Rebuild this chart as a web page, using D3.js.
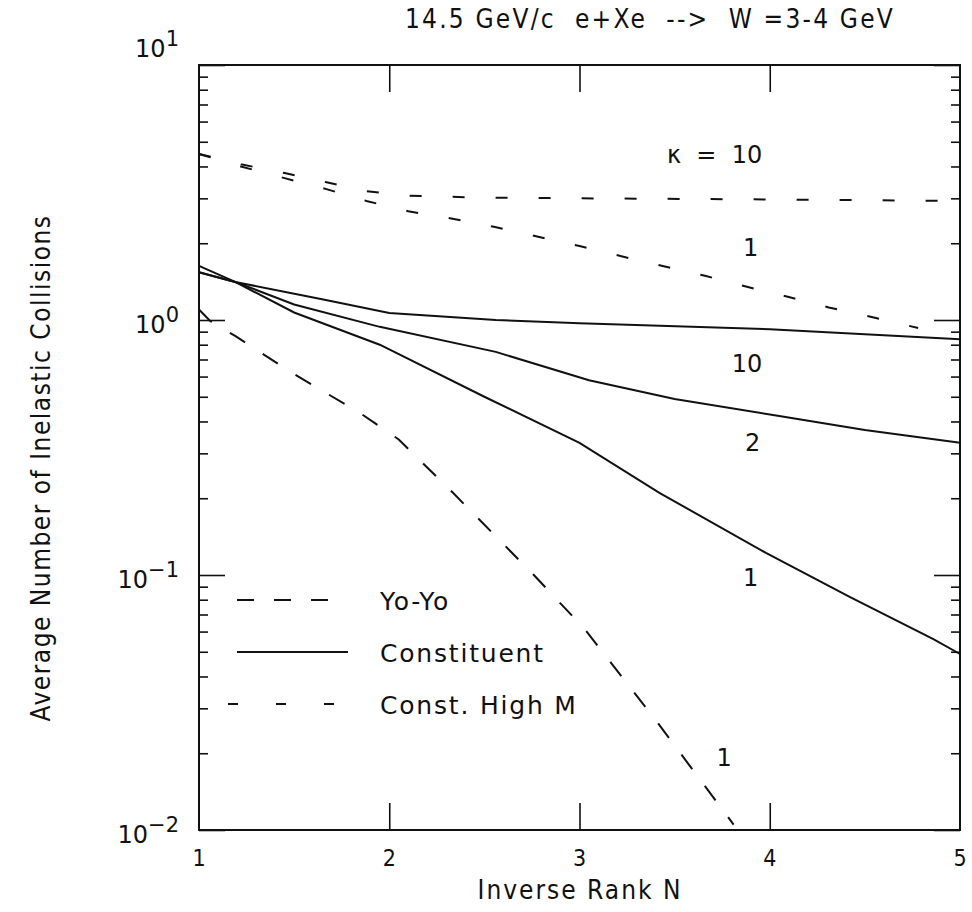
<!DOCTYPE html>
<html>
<head>
<meta charset="utf-8">
<script src="https://cdn.jsdelivr.net/npm/d3@7"></script>
<style>
  body { margin: 0; background: #fff; }
  text { fill: #111; }
</style>
</head>
<body>
<div id="chart"></div>
<script>
// DATA
const xTicks = [1, 2, 3, 4, 5];
const yDecades = [1e-2, 1e-1, 1e0, 1e1];

// Constituent model (solid), kappa = 10, 2, 1
const constK10 = [[1, 1.54], [1.19, 1.41], [1.66, 1.2], [2, 1.065], [2.56, 1.0], [3, 0.97], [4, 0.92], [5, 0.84]];
const constK2 = [[1, 1.54], [1.19, 1.41], [1.5, 1.15], [1.95, 0.94], [2.56, 0.75], [3.05, 0.58], [3.5, 0.49], [4.05, 0.42], [4.5, 0.37], [5, 0.33]];
const constK1 = [[1, 1.63], [1.19, 1.41], [1.5, 1.07], [1.95, 0.8], [2.5, 0.5], [3, 0.33], [3.42, 0.21], [3.98, 0.122], [4.42, 0.082], [4.86, 0.056], [5, 0.049]];

// Const. High M (short dashes), kappa = 10, 1
const highK10 = [[1, 4.48], [1.22, 4.08], [1.45, 3.77], [1.67, 3.47], [1.88, 3.2], [2.1, 3.07], [2.5, 3.02], [3, 3.0], [4, 2.97], [5, 2.93]];
const highK1 = [[1, 4.48], [1.22, 4.0], [1.45, 3.6], [1.67, 3.26], [1.88, 2.93], [2.1, 2.67], [2.34, 2.49], [2.55, 2.32], [3, 1.95], [3.3, 1.72], [3.66, 1.49], [3.88, 1.35], [4.1, 1.23], [4.31, 1.12], [4.53, 1.03], [4.78, 0.93]];

// Yo-Yo (long dashes), kappa = 1
const yoyoK1 = [[1, 1.1], [1.06, 0.99], [1.19, 0.866], [1.49, 0.62], [1.85, 0.43], [2.05, 0.34], [2.335, 0.21], [2.76, 0.1], [3.03, 0.061], [3.4, 0.027], [3.81, 0.0105]];

const curveLabels = [
  { x: 3.71, y: 4.13, t: "\u03ba  =  10" },
  { x: 3.9, y: 1.78, t: "1" },
  { x: 3.88, y: 0.625, t: "10" },
  { x: 3.91, y: 0.306, t: "2" },
  { x: 3.9, y: 0.0906, t: "1" },
  { x: 3.76, y: 0.0178, t: "1" }
];

const legendItems = [
  { name: "Yo-Yo", dash: "17,20", x0: 237, x1: 328 },
  { name: "Constituent", dash: null, x0: 237, x1: 348 },
  { name: "Const. High M", dash: "10,38", x0: 228, x1: 336 }
];

// LAYOUT
const W = 972, H = 912;
const frame = { left: 199, right: 960, top: 65, bottom: 830 };

const svg = d3.select("#chart").append("svg")
  .attr("width", W).attr("height", H);

const x = d3.scaleLinear().domain([1, 5]).range([frame.left, frame.right]);
const y = d3.scaleLog().domain([1e-2, 1e1]).range([frame.bottom, frame.top]);

// minor ticks for log axis
const minorY = [];
yDecades.slice(0, 3).forEach(d => {
  for (let k = 2; k <= 9; k++) minorY.push(d * k);
});

const sans = "'DejaVu Sans', sans-serif";
const cond = "'DejaVu Sans Condensed', 'DejaVu Sans', sans-serif";

// ticks, inward
function tickGroup(axis, tx, ty) {
  const g = svg.append("g").attr("transform", `translate(${tx},${ty})`).call(axis);
  g.select(".domain").remove();
  g.selectAll("text").remove();
  g.selectAll("line").attr("stroke", "#111").attr("stroke-width", 1.6);
  return g;
}
tickGroup(d3.axisBottom(x).tickValues([2, 3, 4]).tickSize(-27), 0, frame.bottom);
tickGroup(d3.axisTop(x).tickValues([2, 3, 4]).tickSize(-27), 0, frame.top);
tickGroup(d3.axisLeft(y).tickValues(yDecades).tickSize(-26), frame.left, 0);
tickGroup(d3.axisLeft(y).tickValues(minorY).tickSize(-9), frame.left, 0);
tickGroup(d3.axisRight(y).tickValues(yDecades).tickSize(-26), frame.right, 0);
tickGroup(d3.axisRight(y).tickValues(minorY).tickSize(-9), frame.right, 0);

// frame
svg.append("rect")
  .attr("x", frame.left).attr("y", frame.top)
  .attr("width", frame.right - frame.left).attr("height", frame.bottom - frame.top)
  .attr("fill", "none").attr("stroke", "#111").attr("stroke-width", 2);

// x tick labels
svg.append("g").selectAll("text").data(xTicks).join("text")
  .attr("x", d => x(d)).attr("y", frame.bottom + 36)
  .attr("text-anchor", "middle")
  .style("font-family", cond)
  .style("font-size", "23px")
  .text(d => d);

// y tick labels 10^n
const yl = svg.append("g").selectAll("text").data(yDecades).join("text")
  .attr("x", frame.left - 20)
  .attr("y", d => y(d) + (d === 1e1 ? -8 : 13))
  .attr("text-anchor", "end")
  .style("font-family", sans)
  .style("font-size", "24px");
yl.append("tspan").text("10");
yl.append("tspan").attr("dy", -11).style("font-size", "21px")
  .text(d => { const e = Math.round(Math.log10(d)); return e < 0 ? "\u2212" + (-e) : e; });

// axis titles
svg.append("text")
  .attr("x", 580).attr("y", 899)
  .attr("text-anchor", "middle")
  .style("font-family", cond)
  .style("font-size", "26px")
  .style("letter-spacing", "2px")
  .text("Inverse Rank N");

svg.append("text")
  .attr("transform", `translate(50,468) rotate(-90)`)
  .attr("text-anchor", "middle")
  .style("font-family", cond)
  .style("font-size", "26px")
  .style("letter-spacing", "1.5px")
  .text("Average Number of Inelastic Collisions");

svg.append("text")
  .attr("x", 650).attr("y", 28)
  .attr("text-anchor", "middle")
  .attr("xml:space", "preserve")
  .style("white-space", "pre")
  .style("font-family", cond)
  .style("font-size", "26px")
  .style("letter-spacing", "2.2px")
  .text("14.5 GeV/c  e+Xe  -->  W =3-4 GeV");

// curves
const line = d3.line().x(d => x(d[0])).y(d => y(d[1]));
const plot = svg.append("g");
function drawCurve(data, dash) {
  plot.append("path").datum(data)
    .attr("d", line)
    .attr("fill", "none")
    .attr("stroke", "#111")
    .attr("stroke-width", 2)
    .attr("stroke-dasharray", dash);
}
drawCurve(constK10, null);
drawCurve(constK2, null);
drawCurve(constK1, null);
drawCurve(highK10, "12,31");
drawCurve(highK1, "12,31");
drawCurve(yoyoK1, "18,21");

// curve labels
svg.append("g").selectAll("text").data(curveLabels).join("text")
  .attr("x", d => x(d.x)).attr("y", d => y(d.y))
  .attr("text-anchor", "middle")
  .attr("xml:space", "preserve")
  .style("white-space", "pre")
  .style("font-family", sans)
  .style("font-size", "24px")
  .text(d => d.t);

// legend
const lg = svg.append("g").attr("transform", "translate(0,600)");
legendItems.forEach((it, i) => {
  const row = lg.append("g").attr("transform", `translate(0,${i * 52})`);
  row.append("line")
    .attr("x1", it.x0).attr("x2", it.x1).attr("y1", 0).attr("y2", 0)
    .attr("stroke", "#111").attr("stroke-width", 1.8)
    .attr("stroke-dasharray", it.dash);
  row.append("text")
    .attr("x", 380).attr("y", 10)
    .style("font-family", sans)
    .style("font-size", "25px")
    .style("letter-spacing", "1.8px")
    .text(it.name);
});
</script>
</body>
</html>
